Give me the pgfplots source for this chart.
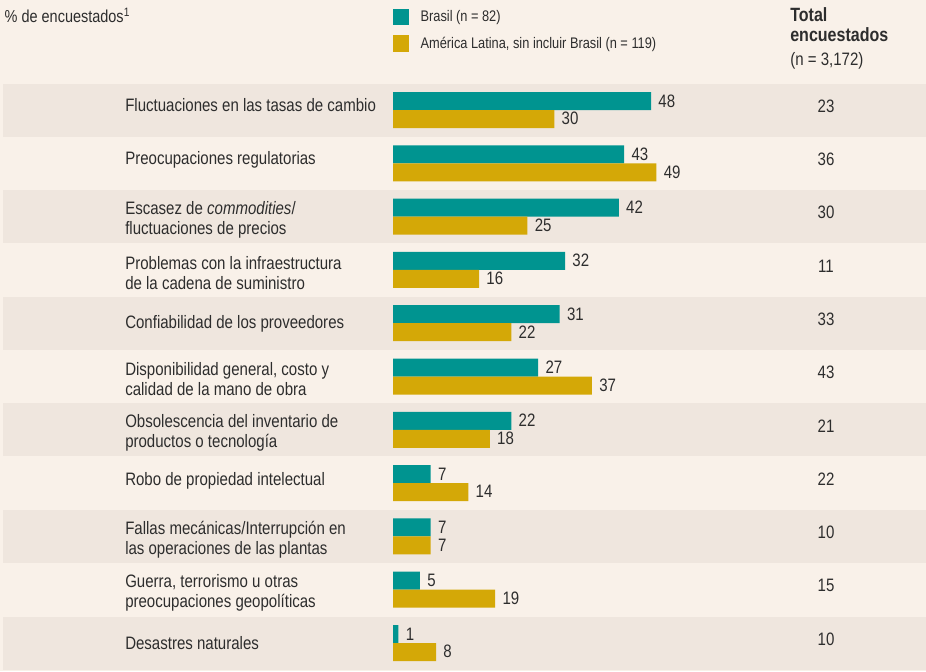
\documentclass[border=0pt]{standalone}
\usepackage{pgfplots}
\pgfplotsset{compat=1.18}
\usepackage{fontspec}
\setmainfont{Liberation Sans}[FakeStretch=0.835]

\definecolor{teal}{RGB}{0,148,144}
\definecolor{gold}{RGB}{212,168,7}
\definecolor{pagebg}{RGB}{249,241,233}
\definecolor{band}{RGB}{239,230,222}
\definecolor{ink}{RGB}{45,45,45}

% 1 px of the reference = 0.75pt
% x: 5.375 px per unit, bars start at px 393
% y: row r centred at px 643 - 53.3 r
\pgfplotsset{
  sqlegend/.style={legend image code/.code={%
    \fill[##1,draw=none] (0pt,-6.2pt) rectangle (12pt,6.2pt);}},
}
% single-line labels: raised by hand, box size kept
\newcommand\one[2]{\raisebox{#1}[\height][\depth]{#2}}

\begin{document}
\begin{tikzpicture}
\begin{axis}[
  set layers,
  scale only axis,
  width=694.5pt, height=503.25pt,
  xmin=-73.12, xmax=99.16,
  ymin=-0.525, ymax=12.064,
  axis background/.style={fill=pagebg},
  axis line style={draw=none},
  tick style={draw=none},
  xtick=\empty,
  ytick={0,...,10},
  yticklabels={
    {\one{2.25pt}{Desastres naturales}},
    {Guerra, terrorismo u otras\\preocupaciones geopolíticas},
    {Fallas mecánicas/Interrupción en\\las operaciones de las plantas},
    {\one{4.1pt}{Robo de propiedad intelectual}},
    {Obsolescencia del inventario de\\productos o tecnología},
    {Disponibilidad general, costo y\\calidad de la mano de obra},
    {\one{1.5pt}{Confiabilidad de los proveedores}},
    {Problemas con la infraestructura\\de la cadena de suministro},
    {Escasez de \textit{commodities}/\\fluctuaciones de precios},
    {\one{4.9pt}{Preocupaciones regulatorias}},
    {\one{5.6pt}{Fluctuaciones en las tasas de cambio}}},
  yticklabel style={anchor=west, xshift=93.75pt, yshift=-2.25pt, inner sep=0pt,
    align=left, text=ink, font=\fontsize{13.5}{15}\selectfont},
  /pgf/number format/assume math mode=true,
  nodes near coords style={font=\fontsize{13.5}{15}\selectfont, text=ink},
  legend style={at={(0.4244,0.989)}, anchor=north west, draw=none, fill=none,
    font=\fontsize{11.5}{13}\selectfont, text=ink, row sep=6pt,
    inner sep=0pt, legend cell align=left,
    /tikz/every odd column/.style={column sep=6.5pt}},
]
  \begin{pgfonlayer}{axis grid}
    \pgfplotsinvokeforeach{0,2,4,6,8,10}{
      \fill[band] (axis cs:-72.56,#1-0.5) rectangle (axis cs:99.16,#1+0.497);
    }
  \end{pgfonlayer}

  \addplot[xbar, sqlegend, fill=teal, draw=none, bar width=13.5pt, bar shift=6.75pt,
    nodes near coords, nodes near coords style={anchor=west, xshift=2pt, yshift=6.9pt}]
    coordinates {(48,10) (43,9) (42,8) (32,7) (31,6) (27,5) (22,4) (7,3) (7,2) (5,1) (1,0)};
  \addplot[xbar, sqlegend, fill=gold, draw=none, bar width=13.5pt, bar shift=-6.75pt,
    nodes near coords, nodes near coords style={anchor=west, xshift=2pt, yshift=-6.4pt}]
    coordinates {(30,10) (49,9) (25,8) (16,7) (22,6) (37,5) (18,4) (14,3) (7,2) (19,1) (8,0)};
  \legend{Brasil (n = 82), {América Latina, sin incluir Brasil (n = 119)}}

  % total respondents column
  \addplot[only marks, mark=none, forget plot, nodes near coords,
    point meta=explicit symbolic, nodes near coords style={anchor=center, yshift=3pt}]
    coordinates {(80.56,10)[23] (80.56,9)[36] (80.56,8)[30] (80.56,7)[11]
      (80.56,6)[33] (80.56,5)[43] (80.56,4)[21] (80.56,3)[22] (80.56,2)[10]
      (80.56,1)[15] (80.56,0)[10]};

  \node[anchor=west, inner sep=0pt, text=ink, font=\fontsize{13}{15}\selectfont]
    at (axis cs:-72.3,11.78) {\% de encuestados\textsuperscript{1}};
  \node[anchor=north west, inner sep=0pt, text=ink, align=left,
    font=\fontsize{14.4}{14.8}\selectfont]
    at (axis cs:73.86,11.93)
    {\textbf{Total}\\\textbf{encuestados}\\[3.5pt]{\fontsize{13.5}{14.25}\selectfont(n = 3,172)}};
\end{axis}
\pgfresetboundingbox
\path[use as bounding box] (current axis.south west) rectangle (current axis.north east);
\end{tikzpicture}
\end{document}
